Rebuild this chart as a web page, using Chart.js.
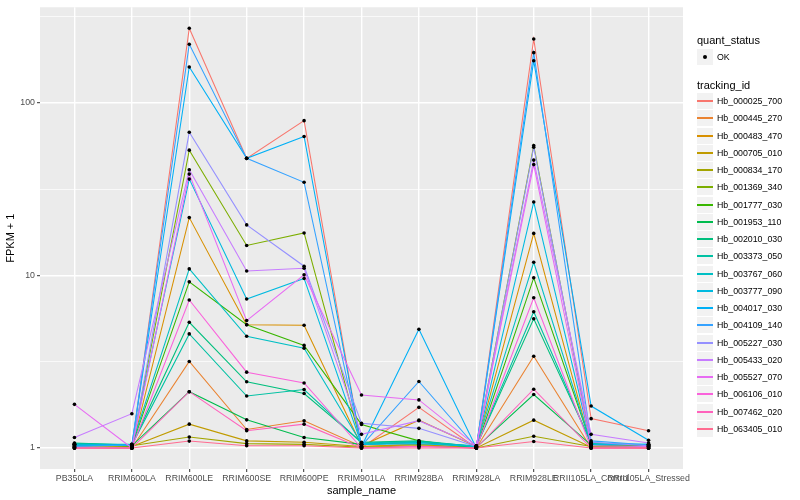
<!DOCTYPE html>
<html>
<head>
<meta charset="utf-8">
<script src="https://cdn.jsdelivr.net/npm/chart.js@4"></script>
<style>
  body { margin: 0; background: #fff; }
  #wrap { position: relative; width: 800px; height: 500px; font-family: "Liberation Sans", Arial, sans-serif; }
  #legend { position: absolute; left: 0; top: 0; width: 800px; height: 500px; pointer-events: none; }
  .lg-title { position: absolute; left: 697px; font-size: 11px; color: #000; line-height: 13px; }
  .lg-key { position: absolute; left: 697px; width: 16px; height: 16px; background: #F2F2F2; }
  .lg-line { position: absolute; left: 0; top: 7px; width: 16px; height: 2px; }
  .lg-dot { position: absolute; left: 6px; top: 6px; width: 4px; height: 4px; border-radius: 50%; background: #000; }
  .lg-label { position: absolute; left: 717px; font-size: 8.8px; color: #000; line-height: 10px; white-space: nowrap; }
</style>
</head>
<body>
<div id="wrap">
  <canvas id="chart" width="800" height="500"></canvas>
  <div id="legend"></div>
</div>
<script>
// categories on the x axis
const categories = ['PB350LA', 'RRIM600LA', 'RRIM600LE', 'RRIM600SE', 'RRIM600PE', 'RRIM901LA',
  'RRIM928BA', 'RRIM928LA', 'RRIM928LE', 'RRII105LA_Control', 'RRII105LA_Stressed'];

const trackingIds = ['Hb_000025_700', 'Hb_000445_270', 'Hb_000483_470', 'Hb_000705_010', 'Hb_000834_170',
  'Hb_001369_340', 'Hb_001777_030', 'Hb_001953_110', 'Hb_002010_030', 'Hb_003373_050',
  'Hb_003767_060', 'Hb_003777_090', 'Hb_004017_030', 'Hb_004109_140', 'Hb_005227_030',
  'Hb_005433_020', 'Hb_005527_070', 'Hb_006106_010', 'Hb_007462_020', 'Hb_063405_010'];

// ggplot default hue palette for 20 groups
const trackingColors = ['#F8766D', '#EA8331', '#D89000', '#C09B00', '#A3A500', '#7CAE00', '#39B600',
  '#00BB4E', '#00BF7D', '#00C1A3', '#00BFC4', '#00BAE0', '#00B0F6', '#35A2FF', '#9590FF',
  '#C77CFF', '#E76BF3', '#FA62DB', '#FF62BC', '#FF6C91'];

// FPKM + 1, one array per tracking id, in category order
const hb000025_700 = [1.00, 1.00, 270, 47.6, 78.7, 1.00, 1.72, 1.00, 234, 1.48, 1.26];
const hb000445_270 = [1.00, 1.00, 3.17, 1.28, 1.44, 1.02, 1.05, 1.00, 3.40, 1.00, 1.00];
const hb000483_470 = [1.02, 1.00, 21.6, 5.18, 5.14, 1.03, 1.45, 1.02, 17.5, 1.02, 1.00];
const hb000705_010 = [1.03, 1.02, 1.375, 1.10, 1.08, 1.02, 1.05, 1.00, 1.45, 1.01, 1.00];
const hb000834_170 = [1.05, 1.03, 1.157, 1.06, 1.05, 1.01, 1.03, 1.00, 1.17, 1.02, 1.02];
const hb001369_340 = [1.04, 1.02, 53.1, 14.9, 17.6, 1.05, 1.08, 1.02, 56.5, 1.05, 1.03];
const hb001777_030 = [1.06, 1.03, 9.17, 5.18, 3.93, 1.37, 1.10, 1.00, 9.68, 1.06, 1.03];
const hb001953_110 = [1.05, 1.03, 2.12, 1.456, 1.15, 1.05, 1.08, 1.01, 2.04, 1.04, 1.02];
const hb002010_030 = [1.07, 1.04, 5.35, 2.42, 2.07, 1.08, 1.10, 1.02, 5.61, 1.07, 1.04];
const hb003373_050 = [1.06, 1.04, 4.58, 2.00, 2.18, 1.07, 1.09, 1.02, 6.16, 1.06, 1.04];
const hb003767_060 = [1.05, 1.05, 10.9, 4.44, 3.78, 1.06, 1.08, 1.03, 11.9, 1.05, 1.05];
const hb003777_090 = [1.04, 1.05, 36.1, 7.30, 9.60, 1.05, 1.06, 1.02, 26.6, 1.05, 1.05];
const hb004017_030 = [1.03, 1.04, 161, 47.6, 63.7, 1.02, 4.87, 1.00, 175, 1.75, 1.11];
const hb004109_140 = [1.02, 1.04, 218, 47.6, 34.6, 1.03, 2.43, 1.01, 195, 1.10, 1.04];
const hb005227_030 = [1.01, 1.00, 67.4, 19.6, 11.3, 1.39, 1.30, 1.02, 55.2, 1.08, 1.03];
const hb005433_020 = [1.15, 1.58, 40.9, 10.6, 11.0, 1.20, 1.44, 1.03, 46.5, 1.20, 1.07];
const hb005527_070 = [1.79, 1.00, 38.6, 5.47, 10.07, 2.03, 1.90, 1.03, 43.8, 1.03, 1.02];
const hb006106_010 = [1.00, 1.00, 7.20, 2.75, 2.38, 1.00, 1.02, 1.00, 7.42, 1.00, 1.00];
const hb007462_020 = [1.00, 1.00, 2.12, 1.26, 1.375, 1.00, 1.02, 1.00, 2.19, 1.00, 1.00];
const hb063405_010 = [1.00, 1.00, 1.097, 1.03, 1.03, 1.00, 1.00, 1.00, 1.09, 1.00, 1.00];

const seriesValues = [hb000025_700, hb000445_270, hb000483_470, hb000705_010, hb000834_170,
  hb001369_340, hb001777_030, hb001953_110, hb002010_030, hb003373_050,
  hb003767_060, hb003777_090, hb004017_030, hb004109_140, hb005227_030,
  hb005433_020, hb005527_070, hb006106_010, hb007462_020, hb063405_010];

// y axis breaks (log10), labels only on the majors
const yMajorTicks = [1, 10, 100];
const yMinorTicks = [3.1623, 31.623, 316.23];

Chart.defaults.font.family = '"Liberation Sans", Arial, sans-serif';

function toPoints(values) {
    return values.map((v, i) => ({ x: i, y: v }));
}

// one line per tracking id, group 1 drawn first like ggplot
const datasets = seriesValues.map((values, i) => ({
    label: trackingIds[i],
    data: toPoints(values),
    borderColor: trackingColors[i],
    borderWidth: 1.07,
    pointRadius: 0,
    tension: 0,
    order: seriesValues.length + 1 - i
}));

// quant_status = OK points on top
datasets.push({
    label: 'OK',
    data: seriesValues.flatMap(toPoints),
    showLine: false,
    pointRadius: 1.8,
    pointBackgroundColor: '#000',
    pointBorderWidth: 0,
    order: 0
});

const panelBackground = {
    id: 'panelBackground',
    beforeDraw(chart) {
        const { ctx, chartArea: a } = chart;
        ctx.save();
        ctx.fillStyle = '#EBEBEB';
        ctx.fillRect(a.left, a.top, a.right - a.left, a.bottom - a.top);
        ctx.restore();
    }
};

new Chart(document.getElementById('chart'), {
    type: 'line',
    data: { datasets: datasets },
    plugins: [panelBackground],
    options: {
        responsive: false,
        animation: false,
        layout: { padding: { top: 5, right: 117, bottom: 0, left: 0 } },
        plugins: { legend: { display: false }, tooltip: { enabled: false } },
        scales: {
            x: {
                type: 'linear',
                bounds: 'data',
                min: -0.6,
                max: 10.6,
                afterBuildTicks: scale => { scale.ticks = categories.map((c, i) => ({ value: i })); },
                afterFit: scale => { scale.height = 31; },
                ticks: {
                    autoSkip: false,
                    maxRotation: 0,
                    minRotation: 0,
                    padding: 1,
                    color: '#4D4D4D',
                    font: { size: 8.8 },
                    callback: value => categories[value]
                },
                grid: { color: '#FFFFFF', lineWidth: 1.4, tickColor: '#333333', tickLength: 3, tickWidth: 1 },
                border: { display: false },
                title: { display: true, text: 'sample_name', color: '#000', font: { size: 11 }, padding: { top: 0, bottom: 2.5 } }
            },
            y: {
                type: 'logarithmic',
                bounds: 'data',
                min: 0.756,
                max: 357,
                afterBuildTicks: scale => {
                    scale.ticks = yMajorTicks.concat(yMinorTicks).sort((a, b) => a - b).map(v => ({ value: v }));
                },
                afterFit: scale => { scale.width = 40; },
                ticks: {
                    padding: 2,
                    color: '#4D4D4D',
                    font: { size: 8.8 },
                    callback: value => yMajorTicks.includes(value) ? String(value) : ''
                },
                grid: {
                    color: '#FFFFFF',
                    lineWidth: ctx => yMajorTicks.includes(ctx.tick.value) ? 1.4 : 0.7,
                    tickColor: ctx => yMajorTicks.includes(ctx.tick.value) ? '#333333' : 'rgba(0,0,0,0)',
                    tickLength: 3,
                    tickWidth: 1
                },
                border: { display: false },
                title: { display: true, text: 'FPKM + 1', color: '#000', font: { size: 11 }, padding: { top: 4.4, bottom: 0 } }
            }
        }
    }
});

// legend, laid out like the ggplot guide boxes
const legend = document.getElementById('legend');
function addTitle(text, centerY) {
    const el = document.createElement('div');
    el.className = 'lg-title';
    el.textContent = text;
    el.style.top = Math.round(centerY - 6.5) + 'px';
    legend.appendChild(el);
}
function addEntry(text, centerY, color) {
    const key = document.createElement('div');
    key.className = 'lg-key';
    key.style.top = Math.round(centerY - 8) + 'px';
    const mark = document.createElement('div');
    if (color) {
        mark.className = 'lg-line';
        mark.style.background = color;
    } else {
        mark.className = 'lg-dot';
    }
    key.appendChild(mark);
    legend.appendChild(key);
    const label = document.createElement('div');
    label.className = 'lg-label';
    label.textContent = text;
    label.style.top = Math.round(centerY - 5) + 'px';
    legend.appendChild(label);
}
addTitle('quant_status', 40);
addEntry('OK', 57, null);
addTitle('tracking_id', 85);
trackingIds.forEach((id, i) => addEntry(id, 101 + 17.25 * i, trackingColors[i]));
</script>
</body>
</html>
